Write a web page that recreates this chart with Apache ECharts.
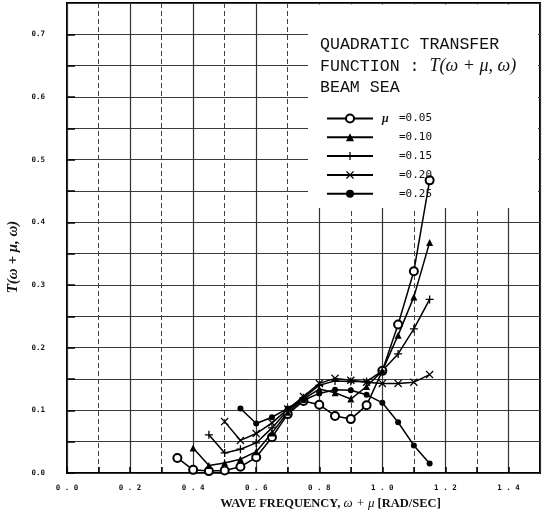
<!DOCTYPE html>
<html>
<head>
<meta charset="utf-8">
<script src="https://cdn.jsdelivr.net/npm/echarts/dist/echarts.min.js"></script>
<style>
  html, body { margin: 0; padding: 0; background: #fff; }
  #chart { width: 546px; height: 517px; }
</style>
</head>
<body>
<div id="chart"></div>
<script>
// wave frequency omega + mu (rad/sec)
const freq = [0.35, 0.40, 0.45, 0.50, 0.55, 0.60, 0.65, 0.70, 0.75, 0.80, 0.85, 0.90, 0.95, 1.00, 1.05, 1.10, 1.15];
const mu005 = [0.024, 0.005, 0.003, 0.004, 0.010, 0.025, 0.057, 0.094, 0.115, 0.109, 0.091, 0.086, 0.108, 0.163, 0.237, 0.322, 0.467];
const mu010 = [null, 0.040, 0.012, 0.016, 0.022, 0.034, 0.064, 0.097, 0.118, 0.134, 0.128, 0.118, 0.138, 0.163, 0.220, 0.281, 0.368];
const mu015 = [null, null, 0.061, 0.032, 0.038, 0.048, 0.072, 0.100, 0.120, 0.140, 0.147, 0.146, 0.146, 0.163, 0.190, 0.230, 0.277];
const mu020 = [null, null, null, 0.082, 0.052, 0.063, 0.080, 0.102, 0.122, 0.143, 0.151, 0.148, 0.145, 0.143, 0.143, 0.145, 0.157];
const mu025 = [null, null, null, null, 0.103, 0.079, 0.089, 0.103, 0.116, 0.127, 0.133, 0.132, 0.125, 0.112, 0.081, 0.044, 0.015];

const names = ['μ=0.05', 'μ=0.10', 'μ=0.15', 'μ=0.20', 'μ=0.25'];
const legendValues = ['=0.05', '=0.10', '=0.15', '=0.20', '=0.25'];

const plusPath = 'path://M4.2,0h1.6v10h-1.6zM0,4.2h10v1.6h-10z';
const crossPath = 'path://M0,1.1L1.1,0L10,8.9L8.9,10ZM8.9,0L10,1.1L1.1,10L0,8.9Z';

function pairs(ys) {
  return freq.map((x, i) => [x, ys[i]]).filter(p => p[1] !== null);
}

function makeSeries(name, ys, symbol, size) {
  return {
    name: name,
    type: 'line',
    data: pairs(ys),
    symbol: symbol,
    symbolSize: size,
    showAllSymbol: true,
    lineStyle: { color: '#000', width: 1.5 },
    itemStyle: { color: '#000', borderColor: '#000', borderWidth: symbol === 'emptyCircle' ? 1.4 : 0 },
    emphasis: { disabled: true }
  };
}

var myChart = echarts.init(document.getElementById('chart'));

var options = {
  animation: false,
  backgroundColor: '#fff',
  grid: {
    left: 67, right: 6, top: 3, bottom: 44,
    show: true, borderColor: '#000', borderWidth: 2,
    outerBoundsMode: 'none'
  },
  title: {
    text: 'QUADRATIC TRANSFER\nFUNCTION : {m|T(ω + μ, ω)}\nBEAM SEA',
    left: 320, top: 34, padding: 0,
    textStyle: {
      fontFamily: 'Liberation Mono', fontSize: 16.6, fontWeight: 'normal',
      color: '#111', lineHeight: 21.5,
      rich: {
        m: { fontFamily: 'Liberation Serif', fontStyle: 'italic', fontSize: 18, lineHeight: 21.5, color: '#111' }
      }
    }
  },
  legend: {
    orient: 'vertical',
    left: 326, top: 112.5,
    itemWidth: 46, itemHeight: 10, itemGap: 6.8,
    padding: 0,
    selectedMode: false,
    data: names,
    formatter: function (name) {
      const i = names.indexOf(name);
      return (i === 0 ? '{m|μ}' : '{m|}') + '{v|' + legendValues[i] + '}';
    },
    textStyle: {
      color: '#111', lineHeight: 10, height: 10,
      rich: {
        m: { fontFamily: 'Liberation Serif', fontStyle: 'italic', fontWeight: 'bold', fontSize: 12, width: 17, height: 10, lineHeight: 10, padding: [0, 0, 0, 4] },
        v: { fontFamily: 'DejaVu Sans Mono', fontSize: 11, height: 10, lineHeight: 10 }
      }
    }
  },
  graphic: [{
    type: 'rect', z: 1, silent: true,
    shape: { x: 308, y: 4.5, width: 230, height: 203.5 },
    style: { fill: '#fff' }
  }],
  xAxis: [{
    type: 'value', min: 0, max: 1.5, interval: 0.1,
    name: 'WAVE FREQUENCY, {i|ω + μ} [RAD/SEC]',
    nameLocation: 'middle', nameGap: 21,
    nameTextStyle: {
      fontFamily: 'Liberation Serif', fontWeight: 'bold', fontSize: 12.5, color: '#111',
      padding: [0, 0, 0, 54],
      rich: { i: { fontFamily: 'Liberation Serif', fontStyle: 'italic', fontWeight: 'normal', fontSize: 13, color: '#111' } }
    },
    axisLine: { show: false },
    axisTick: { show: true, inside: true, length: 6, lineStyle: { color: '#000', width: 1.5 } },
    axisLabel: {
      margin: 11, color: '#111', fontFamily: 'DejaVu Sans Mono', fontWeight: 'bold', fontSize: 7.5,
      showMaxLabel: false,
      formatter: function (v) {
        const k = Math.round(v * 10);
        return (k % 2 === 0 && k < 15) ? (k / 10).toFixed(1).replace('.', ' . ') : '';
      }
    },
    splitLine: { show: true, lineStyle: { color: '#444', width: 1, type: [5, 3] } }
  }, {
    type: 'value', min: 0, max: 1.5, interval: 0.2, position: 'top',
    axisLine: { show: false }, axisTick: { show: false }, axisLabel: { show: false },
    splitLine: { show: true, lineStyle: { color: '#333', width: 1.2 } }
  }],
  yAxis: {
    type: 'value', min: 0, max: 0.75, interval: 0.05,
    name: '{i|T}(ω + μ, ω)',
    nameLocation: 'middle', nameGap: 43,
    nameTextStyle: {
      fontFamily: 'Liberation Serif', fontStyle: 'italic', fontWeight: 'bold', fontSize: 15, color: '#111',
      padding: [0, 38, 0, 0],
      rich: { i: { fontFamily: 'Liberation Serif', fontStyle: 'italic', fontWeight: 'bold', fontSize: 15, color: '#111' } }
    },
    axisLine: { show: false },
    axisTick: { show: true, inside: true, length: 8, lineStyle: { color: '#000', width: 1.5 } },
    axisLabel: {
      margin: 22, color: '#111', fontFamily: 'DejaVu Sans Mono', fontWeight: 'bold', fontSize: 7.5,
      showMaxLabel: false,
      formatter: function (v) {
        const k = Math.round(v * 100);
        return (k % 10 === 0) ? (k / 100).toFixed(1) : '';
      }
    },
    splitLine: { show: true, lineStyle: { color: '#3a3a3a', width: 1.1 } }
  },
  series: [
    makeSeries(names[0], mu005, 'emptyCircle', 8),
    makeSeries(names[1], mu010, 'triangle', 7),
    makeSeries(names[2], mu015, plusPath, 8),
    makeSeries(names[3], mu020, crossPath, 8),
    makeSeries(names[4], mu025, 'circle', 6)
  ]
};

myChart.setOption(options);
</script>
</body>
</html>
